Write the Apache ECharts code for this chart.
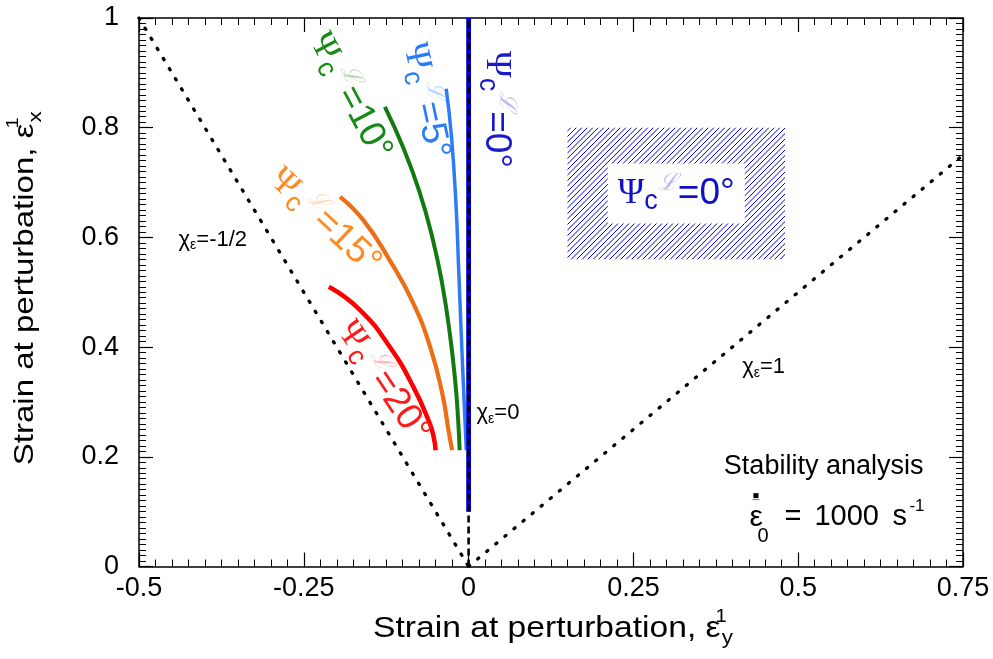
<!DOCTYPE html>
<html><head><meta charset="utf-8">
<script src="https://cdn.jsdelivr.net/npm/echarts@6/dist/echarts.min.js"></script>
<style>html,body{margin:0;padding:0;background:#fff}#c{width:993px;height:659px}</style>
</head><body><div id="c"></div>
<script>
// ---- data ----
const xTicks = [-0.5, -0.25, 0, 0.25, 0.5, 0.75];
const yTicks = [0, 0.2, 0.4, 0.6, 0.8, 1];
const psi20 = [[-0.212,0.510],[-0.165,0.468],[-0.120,0.401],[-0.084,0.328],[-0.059,0.261],[-0.053,0.236],[-0.050,0.212]];
const psi15 = [[-0.195,0.674],[-0.160,0.632],[-0.120,0.559],[-0.084,0.480],[-0.057,0.395],[-0.039,0.310],[-0.031,0.252],[-0.025,0.212]];
const psi10 = [[-0.127,0.838],[-0.100,0.766],[-0.075,0.685],[-0.055,0.600],[-0.040,0.515],[-0.028,0.420],[-0.020,0.334],[-0.016,0.270],[-0.0136,0.212]];
const psi5 = [[-0.034,0.871],[-0.026,0.784],[-0.019,0.657],[-0.015,0.540],[-0.011,0.420],[-0.0075,0.320],[-0.0035,0.212]];
const psi0 = [[0,0.1],[0,1]];
const chiNegHalf = [[-0.5,1],[0,0]];
const chiZero = [[0,0],[0,1]];
const chiOne = [[0,0],[0.75,0.75]];
const hatchBox = [[0.15,0.80,0.48,0.56]];
const xTitle = 'Strain at perturbation, ε';
const yTitle = 'Strain at perturbation, ε';

// ---- annotation layout (data coordinates) ----
const SANS = 'Liberation Sans, Arial, sans-serif';
const SERIF = 'Liberation Serif, Times New Roman, serif';
function fade(hex,a){
  const n = parseInt(hex.slice(1),16);
  return 'rgba('+(n>>16)+','+((n>>8)&255)+','+(n&255)+','+a+')';
}
function psiRich(color){
  return {
    p:{fontFamily:SERIF,fontSize:36,fill:color,color:color,lineHeight:44},
    c:{fontFamily:SANS,fontSize:27,fill:color,color:color,lineHeight:30,verticalAlign:'bottom'},
    L:{fontFamily:'DejaVu Serif, serif',fontSize:24,fontStyle:'italic',fill:fade(color,0.3),color:fade(color,0.3),lineHeight:26,verticalAlign:'top'},
    v:{fontFamily:SANS,fontSize:37,fill:color,color:color,lineHeight:44}
  };
}
const psiLabels = [
  {x:-0.130,y:0.337,rot:-56,color:'#ff1a1a',txt:'=20°'},
  {x:-0.218,y:0.629,rot:-43,color:'#ff8a1f',txt:'=15°'},
  {x:-0.180,y:0.857,rot:-62,color:'#158a15',txt:'=10°'},
  {x:-0.065,y:0.849,rot:-78,color:'#2a7cff',txt:'=5°'},
  {x:0.042,y:0.833,rot:-90,color:'#1a1acc',txt:'=0°'}
];
const chiRich = {t:{fontFamily:SANS,fontSize:22,fill:'#000',lineHeight:26},s:{fontFamily:SANS,fontSize:14,fill:'#000',lineHeight:16,verticalAlign:'bottom'}};
const chiLabels = [
  {x:-0.440,y:0.596,txt:'=-1/2'},
  {x:0.012,y:0.280,txt:'=0'},
  {x:0.415,y:0.364,txt:'=1'}
];

function hatchPattern(){
  const c = document.createElement('canvas'); c.width = 11; c.height = 11;
  const g = c.getContext('2d');
  g.strokeStyle = '#0000ee'; g.lineWidth = 1;
  g.beginPath();
  for (const k of [-11,-5.5,0,5.5,11]) { g.moveTo(k,11); g.lineTo(k+11,0); }
  g.stroke();
  return c;
}
const pattern = hatchPattern();

const chart = echarts.init(document.getElementById('c'));
const xMin = xTicks[0], xMax = xTicks[xTicks.length-1], xInt = xTicks[1]-xTicks[0];
const yMin = yTicks[0], yMax = yTicks[yTicks.length-1], yInt = yTicks[1]-yTicks[0];
const tickCommon = {
  axisLine:{show:true,onZero:false,lineStyle:{color:'#000',width:1.5}},
  axisTick:{show:true,inside:true,length:14,lineStyle:{color:'#000',width:1.2}},
  splitLine:{show:false}
};
function xAx(pos, showLabel){
  return Object.assign({type:'value',position:pos,min:xMin,max:xMax,interval:xInt,
    minorTick:{show:true,splitNumber:10,length:7,lineStyle:{color:'#000',width:1}},
    axisLabel:{show:showLabel,fontFamily:SANS,fontSize:27,color:'#000',margin:9},
  }, tickCommon);
}
function yAx(pos, showLabel){
  return Object.assign({type:'value',position:pos,min:yMin,max:yMax,interval:yInt,
    minorTick:{show:true,splitNumber:20,length:7,lineStyle:{color:'#000',width:1}},
    axisLabel:{show:showLabel,fontFamily:SANS,fontSize:27,color:'#000',margin:20,
      formatter:v=>String(+v.toFixed(2))},
  }, tickCommon);
}
function curve(data,color,w){
  return {type:'line',data:data,smooth:0.5,showSymbol:false,silent:true,z:3,
    lineStyle:{color:color,width:w,cap:'butt'}};
}
function dotted(data){
  return {type:'line',data:data,showSymbol:false,silent:true,z:4,
    lineStyle:{color:'#000',width:3.3,type:[1.4,10.4],cap:'round'}};
}

const option = {
  animation:false,
  backgroundColor:'#fff',
  grid:{left:139,right:30,top:18,bottom:92.5,containLabel:false},
  xAxis:[xAx('bottom',true), xAx('top',false)],
  yAxis:[yAx('left',true), yAx('right',false)],
  series:[
    {type:'custom',data:hatchBox,z:1,silent:true,encode:{x:[0,2],y:[1,3]},
      renderItem:function(params,api){
        const p1 = api.coord([api.value(0),api.value(1)]);
        const p2 = api.coord([api.value(2),api.value(3)]);
        const r = psiRich('#1010cc');
        return {type:'group',children:[
          {type:'rect',shape:{x:p1[0],y:p1[1],width:p2[0]-p1[0],height:p2[1]-p1[1]},
            style:{fill:{image:pattern,repeat:'repeat'}}},
          {type:'text',x:(p1[0]+p2[0])/2,y:(p1[1]+p2[1])/2,
            style:{text:'{p|Ψ}{c|c}{L|ℒ}{v|=0°}',rich:r,align:'center',verticalAlign:'middle',
              backgroundColor:'#fff',padding:[8,10,8,10]}}
        ]};
      }},
    curve(psi20,'#ff0000',4.5),
    curve(psi15,'#ec6e17',4.2),
    curve(psi10,'#137a13',4),
    curve(psi5,'#2d7cf5',3.5),
    {type:'line',data:psi0,showSymbol:false,silent:true,z:3,lineStyle:{color:'#0000dd',width:4.8}},
    dotted(chiNegHalf),
    dotted(chiOne),
    {type:'line',data:chiZero,showSymbol:false,silent:true,z:5,
      lineStyle:{color:'#000',width:2.6,type:[7,4]}}
  ]
};
chart.setOption(option);

const toPx = d => chart.convertToPixel({xAxisIndex:0,yAxisIndex:0}, d);
const graphics = [];
psiLabels.forEach(a=>{
  const p = toPx([a.x,a.y]);
  graphics.push({type:'text',x:p[0],y:p[1],rotation:a.rot*Math.PI/180,z:10,
    style:{text:'{p|Ψ}{c|c}{L|ℒ}{v|'+a.txt+'}',rich:psiRich(a.color),align:'center',verticalAlign:'middle'}});
});
chiLabels.forEach(a=>{
  const p = toPx([a.x,a.y]);
  graphics.push({type:'text',x:p[0],y:p[1],z:10,
    style:{text:'{t|χ}{s|ε}{t|'+a.txt+'}',rich:chiRich,align:'left',verticalAlign:'middle'}});
});
// axis titles (stretched horizontally like the reference typeface)
{
  const gridLeft = 139, gridRight = 993-30, gridTop = 18, gridBottom = 659-92.5;
  const titleRich = (fs) => ({
    m:{fontFamily:SANS,fontSize:fs,fill:'#000',lineHeight:40},
    sup:{fontFamily:SANS,fontSize:Math.round(fs*0.6),fill:'#000',width:1,lineHeight:18,verticalAlign:'top'},
    sub:{fontFamily:SANS,fontSize:Math.round(fs*0.68),fill:'#000',lineHeight:18,verticalAlign:'bottom'}
  });
  graphics.push({type:'text',x:(gridLeft+gridRight)/2+2,y:gridBottom+62,scaleX:1.12,z:10,
    style:{text:'{m|'+xTitle+'}{sup|1}{sub|y}',rich:titleRich(30),align:'center',verticalAlign:'middle'}});
  graphics.push({type:'text',x:25,y:(gridTop+gridBottom)/2-4,rotation:Math.PI/2,scaleX:1.18,z:10,
    style:{text:'{m|'+yTitle+'}{sup|1}{sub|x}',rich:titleRich(28),align:'center',verticalAlign:'middle'}});
}
{
  const p1 = toPx([0.69,0.183]);
  graphics.push({type:'text',x:p1[0],y:p1[1],z:10,
    style:{text:'Stability analysis',fontFamily:SANS,fontSize:27,fill:'#000',align:'right',verticalAlign:'middle'}});
  const p2 = toPx([0.426,0.09]);
  const t = (s,dx,dy,fs) => ({type:'text',x:dx,y:dy,style:{text:s,fontFamily:SANS,fontSize:fs,fill:'#000',align:'left',verticalAlign:'middle'}});
  graphics.push({type:'group',x:p2[0],y:p2[1],z:10,children:[
    t('ε',0,1,30),
    t('0',8,19,20),
    t('=',35,0,29),
    t('1000',65,0,29),
    t('s',143,0,29),
    t('-1',160,-11,17),
    {type:'rect',shape:{x:4,y:-24,width:5,height:5},style:{fill:'#000'}},
    {type:'rect',shape:{x:3,y:-18,width:7,height:1},style:{fill:'#777'}}
  ]});
}
chart.setOption({graphic:graphics});
</script></body></html>
